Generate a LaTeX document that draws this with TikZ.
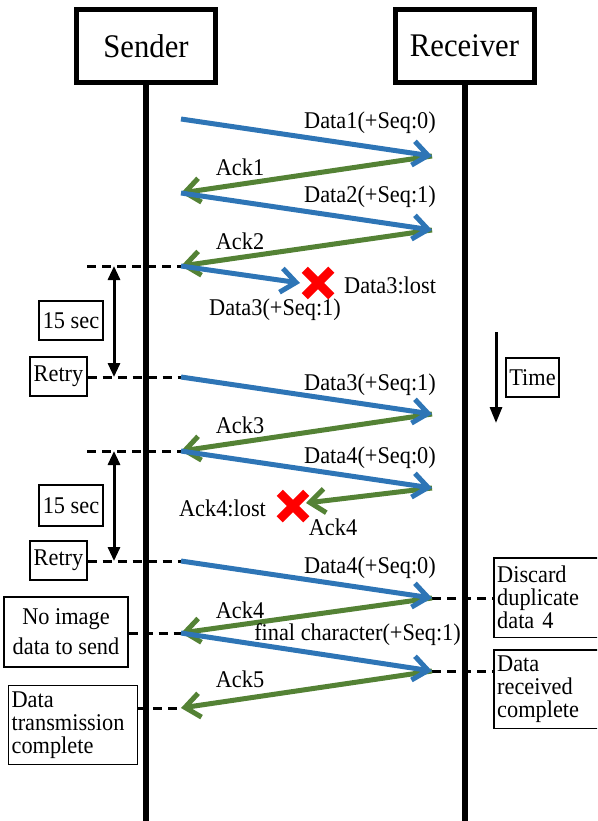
\documentclass[tikz,border=0pt]{standalone}
\usepackage{fontspec}
\setmainfont[FakeStretch=0.93]{Liberation Serif}
\usetikzlibrary{arrows.meta,shapes.misc}

\definecolor{datablue}{RGB}{46,117,182}
\definecolor{ackgreen}{RGB}{84,130,53}
\definecolor{lostred}{RGB}{255,0,0}

\tikzset{
  actor/.style={draw, line width=5pt, minimum width=139pt, minimum height=73pt,
    inner sep=0pt, font=\fontsize{33}{36}\selectfont},
  lifeline/.style={line width=6pt},
  msg/.style={line width=5pt, -{Straight Barb[length=15pt,width=24pt]}},
  datamsg/.style={msg, draw=datablue},
  ackmsg/.style={msg, draw=ackgreen},
  lbl/.style={inner sep=0pt, font=\fontsize{24}{26}\selectfont},
  note/.style={draw, line width=1.2pt, inner sep=0pt,
    font=\fontsize{24}{23}\selectfont},
  leftnote/.style={note, anchor=north west, align=left, inner xsep=3pt},
  edgenote/.style={inner sep=0pt, inner xsep=3pt, anchor=north west, align=left,
    font=\fontsize{24}{23}\selectfont},
  edgeframe/.style={line width=1.2pt},
  guide/.style={line width=3pt, dash pattern=on 9pt off 6pt},
  interval/.style={line width=3pt,
    {Triangle[length=14pt,width=12pt]}-{Triangle[length=14pt,width=12pt]}},
  timeflow/.style={line width=3pt, -{Triangle[length=16pt,width=12pt]}},
  lostmark/.style={cross out, draw=lostred, line width=8.5pt, minimum size=18pt,
    inner sep=0pt},
}

\begin{document}
\begin{tikzpicture}[x=1pt, y=-1pt]
  \useasboundingbox (0,0) rectangle (597,821);
  \clip (0,0) rectangle (597,821);

  % participants and their lifelines
  \node[actor] (sender) at (146,46) {Sender};
  \node[actor] (receiver) at (464.5,46) {Receiver};
  \coordinate (bottom) at (0,821);
  \draw[lifeline] (sender.south) -- (sender.south |- bottom);
  \draw[lifeline] (receiver.south) -- (receiver.south |- bottom);

  % message end points on the sender side (s) and receiver side (r)
  \coordinate (s1) at (181,119);
  \coordinate (r2) at (432,156);
  \coordinate (s3) at (181,193);
  \coordinate (r4) at (432,230);
  \coordinate (s5) at (181,266);
  \coordinate (lostA) at (300,283);
  \coordinate (s6) at (181,377);
  \coordinate (r7) at (432,414);
  \coordinate (s8) at (181,451);
  \coordinate (r9) at (432,488);
  \coordinate (lostB) at (306,503);
  \coordinate (s10) at (181,561);
  \coordinate (r11) at (432,598);
  \coordinate (s12) at (181,633);
  \coordinate (r13) at (432,671);
  \coordinate (s14) at (181,708);

  % side notes
  \node[note, minimum width=64pt, minimum height=39pt] (wait1) at (71,320.5) {15 sec};
  \node[note, minimum width=57pt, minimum height=39pt] (retry1) at (58.5,376.5) {Retry};
  \node[note, minimum width=64pt, minimum height=41pt] (wait2) at (71,505.5) {15 sec};
  \node[note, minimum width=57pt, minimum height=39pt] (retry2) at (58.5,560.5) {Retry};
  \node[note, minimum width=53pt, minimum height=39pt] (time) at (532.5,377.5) {Time};
  \node[note, minimum width=124pt, minimum height=70pt, align=center,
        font=\fontsize{24}{30}\selectfont] (noimage) at (66,632) {No image\\data to send};
  \node[leftnote, text width=123pt, minimum height=79pt] (txdone) at (8,685)
    {Data\\transmission\\complete};

  % receiver notes run off the right edge: open frames
  \node[edgenote, text width=140pt, minimum height=79pt] (discard) at (494,558)
    {Discard\\duplicate\\data 4};
  \node[edgenote, text width=140pt, minimum height=78pt] (rxdone) at (494,650)
    {Data\\received\\complete};
  \draw[edgeframe] (discard.north east) -| (discard.south west) -- (discard.south east);
  \draw[edgeframe] (rxdone.north east) -| (rxdone.south west) -- (rxdone.south east);

  % dashed guide lines
  \draw[guide] (87,266) -- (s5);
  \draw[guide] (retry1.east |- s6) -- (s6);
  \draw[guide] (87,451) -- (s8);
  \draw[guide] (retry2.east |- s10) -- (s10);
  \draw[guide] (r11) -- (discard.west |- r11);
  \draw[guide] (noimage.east |- s12) -- (s12);
  \draw[guide] (r13) -- (rxdone.west |- r13);
  \draw[guide] (txdone.east |- s14) -- (s14);

  % retry intervals and the time direction
  \coordinate (i1a) at (114,266);
  \coordinate (i1b) at (114,377);
  \coordinate (i2a) at (114,451);
  \coordinate (i2b) at (114,561);
  \draw[interval] (i1a) -- (i1b);
  \draw[interval] (i2a) -- (i2b);
  \coordinate (ta) at (496,332);
  \coordinate (tb) at (496,423);
  \draw[timeflow] (ta) -- (tb);

  % acknowledgements
  \draw[ackmsg] (r2) -- (s3);
  \draw[ackmsg] (r4) -- (s5);
  \draw[ackmsg] (r7) -- (s8);
  \draw[ackmsg] (r9) -- (lostB);
  \draw[ackmsg] (r11) -- (s12);
  \draw[ackmsg] (r13) -- (s14);

  % data frames
  \draw[datamsg] (s1) -- (r2);
  \draw[datamsg] (s3) -- (r4);
  \draw[datamsg] (s5) -- (lostA);
  \draw[datamsg] (s6) -- (r7);
  \draw[datamsg] (s8) -- (r9);
  \draw[datamsg] (s10) -- (r11);
  \draw[datamsg] (s12) -- (r13);

  % lost frames
  \node[lostmark] (xA) at (318,283) {};
  \node[lostmark] (xB) at (293,506) {};

  % message labels
  \node[lbl, anchor=east] (l1) at (436,123) {Data1(+Seq:0)};
  \node[lbl] (l2) at (240,167) {Ack1};
  \node[lbl, anchor=east] (l3) at (436,197) {Data2(+Seq:1)};
  \node[lbl] (l4) at (240,241) {Ack2};
  \node[lbl, anchor=west] (l5) at (344,285) {Data3:lost};
  \node[lbl] (l6) at (275,310) {Data3(+Seq:1)};
  \node[lbl, anchor=east] (l7) at (436,385) {Data3(+Seq:1)};
  \node[lbl] (l8) at (240,425) {Ack3};
  \node[lbl, anchor=east] (l9) at (436,458) {Data4(+Seq:0)};
  \node[lbl] (l10) at (222.5,508) {Ack4:lost};
  \node[lbl] (l11) at (333,527) {Ack4};
  \node[lbl, anchor=east] (l12) at (436,568) {Data4(+Seq:0)};
  \node[lbl] (l13) at (240,610) {Ack4};
  \node[lbl, anchor=east] (l14) at (461,635) {final character(+Seq:1)};
  \node[lbl] (l15) at (240,679) {Ack5};
\end{tikzpicture}
\end{document}
